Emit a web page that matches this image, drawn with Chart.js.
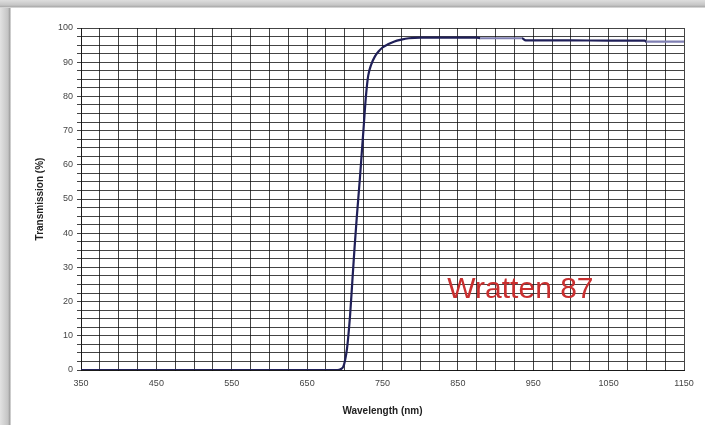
<!DOCTYPE html>
<html>
<head>
<meta charset="utf-8">
<script src="https://cdn.jsdelivr.net/npm/chart.js@4"></script>
<style>
  html, body { margin: 0; padding: 0; background: #fff; }
  #frame {
    position: relative; width: 705px; height: 425px; overflow: hidden;
    background: linear-gradient(to right, #e2e2e2 0px, #c4c4c4 8px, #9a9a9a 10px, #fff 11px);
  }
  #topbar {
    position: absolute; left: 0; top: 0; width: 705px; height: 8px;
    background: linear-gradient(to bottom, #dedede 0px, #c6c6c6 5px, #a8a8a8 7px, #fff 8px);
  }
  #panel { position: absolute; left: 11px; top: 8px; width: 694px; height: 417px; background: #fff; }
  #c { position: absolute; left: 0; top: 0; }
</style>
</head>
<body>
<div id="frame">
  <div id="topbar"></div>
  <div id="panel"></div>
  <canvas id="c" width="705" height="425"></canvas>
</div>
<script>
// ---- data ----
var wavelengths = [350, 400, 450, 500, 550, 600, 650, 690, 695, 698, 700, 703, 707, 710, 713, 716, 720, 723, 725, 728, 731, 735, 740, 745, 750, 758, 765, 775, 785, 800, 850, 875, 880, 935, 940, 1000, 1050, 1098, 1100, 1150];
var transmission = [0, 0, 0, 0, 0, 0, 0, 0, 0.3, 1, 2.5, 6.4, 16, 26, 36, 45, 56, 65, 71, 80, 86, 89.3, 91.7, 93.2, 94.3, 95.3, 96, 96.6, 97, 97.2, 97.2, 97.2, 97, 97, 96.4, 96.4, 96.3, 96.3, 96, 96];
var xTickLabels = [350, 450, 550, 650, 750, 850, 950, 1050, 1150];
var yTickLabels = [0, 10, 20, 30, 40, 50, 60, 70, 80, 90, 100];
var labelText = 'Wratten 87';
var labelAt = { x: 836, y: 21 };

// ---- chart ----
var lineDark  = '#1f1f58';
var lineLight = '#7f7fb2';
var gridCol   = 'rgba(15,15,15,0.78)';

var pts = wavelengths.map(function(w, i) { return { x: w, y: transmission[i] }; });

var filterLabel = {
  id: 'filterLabel',
  afterDatasetsDraw: function(chart) {
    var c = chart.ctx;
    c.save();
    c.font = '30px "Liberation Sans", Arial, sans-serif';
    c.fillStyle = '#c92f2f';
    c.textAlign = 'left';
    c.textBaseline = 'alphabetic';
    c.fillText(labelText, chart.scales.x.getPixelForValue(labelAt.x), chart.scales.y.getPixelForValue(labelAt.y));
    c.restore();
  }
};

new Chart(document.getElementById('c'), {
  type: 'line',
  data: {
    datasets: [{
      data: pts,
      borderColor: lineDark,
      borderWidth: 2.2,
      pointRadius: 0,
      cubicInterpolationMode: 'monotone',
      segment: {
        borderColor: function(ctx) {
          var a = ctx.p0.parsed.x;
          if ((a >= 880 && a < 935) || a >= 1100) return lineLight;
          return lineDark;
        }
      }
    }]
  },
  options: {
    responsive: false,
    animation: false,
    layout: { padding: { left: 34, right: 21, top: 28, bottom: 8 } },
    plugins: { legend: { display: false }, tooltip: { enabled: false } },
    scales: {
      x: {
        type: 'linear', min: 350, max: 1150,
        afterFit: function(s) { s.height = 47; },
        border: { color: gridCol, width: 1 },
        grid: { color: gridCol, lineWidth: 1, tickLength: 0 },
        ticks: {
          stepSize: 25, autoSkip: false, maxRotation: 0, padding: 8,
          color: '#444', font: { family: 'Arial, "Liberation Sans"', size: 9 },
          callback: function(v) { return xTickLabels.indexOf(v) >= 0 ? String(v) : ''; }
        },
        title: {
          display: true, text: 'Wavelength (nm)', color: '#222', padding: { top: 6, bottom: 0 },
          font: { family: 'Arial, "Liberation Sans"', size: 10, weight: 'bold' }
        }
      },
      y: {
        min: 0, max: 100,
        afterFit: function(s) { s.width = 47; },
        border: { color: gridCol, width: 1 },
        grid: { color: gridCol, lineWidth: 1, tickLength: 4 },
        ticks: {
          stepSize: 2.5, autoSkip: false, padding: 4,
          color: '#444', font: { family: 'Arial, "Liberation Sans"', size: 9 },
          callback: function(v) { return yTickLabels.indexOf(v) >= 0 ? String(v) : ''; }
        },
        title: {
          display: true, text: 'Transmission (%)', color: '#222', padding: 0,
          font: { family: 'Arial, "Liberation Sans"', size: 10, weight: 'bold' }
        }
      }
    }
  },
  plugins: [filterLabel]
});
</script>
</body>
</html>
